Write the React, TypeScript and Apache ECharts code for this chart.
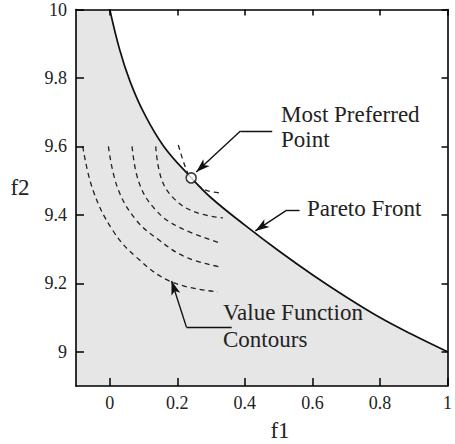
import React, { useEffect, useRef } from "react";
import * as echarts from "echarts";

const xTicks = [0, 0.2, 0.4, 0.6, 0.8, 1];
const yTicks = [9, 9.2, 9.4, 9.6, 9.8, 10];

const paretoF1 = [0, 0.03, 0.06, 0.1, 0.16, 0.24, 0.3, 0.4, 0.5, 0.6, 0.7, 0.8, 0.9, 1.0];
const paretoF2 = [10, 9.88, 9.79, 9.7, 9.6, 9.51, 9.45, 9.37, 9.295, 9.225, 9.16, 9.1, 9.048, 9.0];

const contour1F1 = [-0.08, -0.05, 0.008, 0.078, 0.183, 0.32];
const contour1F2 = [9.6, 9.473, 9.356, 9.277, 9.204, 9.175];
const contour2F1 = [-0.004, 0.023, 0.078, 0.145, 0.224, 0.326];
const contour2F2 = [9.6, 9.479, 9.385, 9.327, 9.277, 9.248];
const contour3F1 = [0.066, 0.087, 0.136, 0.203, 0.326];
const contour3F2 = [9.6, 9.493, 9.414, 9.365, 9.318];
const contour4F1 = [0.136, 0.154, 0.195, 0.253, 0.335];
const contour4F2 = [9.6, 9.502, 9.443, 9.408, 9.391];
const tangentF1 = [0.203, 0.227, 0.241, 0.282, 0.335];
const tangentF2 = [9.604, 9.531, 9.508, 9.473, 9.464];

const preferredPoint = [0.241, 9.508];

const FONT = "Liberation Serif, Times New Roman, serif";
const GRAY = "#e6e6e6";

const zip = (a: number[], b: number[]) => a.map((v, i) => [v, b[i]]);

export default function App() {
  const ref = useRef<HTMLDivElement>(null);
  useEffect(() => {
    if (!ref.current) return;
    const chart = echarts.init(ref.current, null, { renderer: "svg" });
    const axisCommon = {
      type: "value" as const,
      splitLine: { show: false },
      axisLine: { show: true, onZero: false, lineStyle: { color: "#000", width: 1.6 } },
      z: 10,
    };
    const contour = (f1: number[], f2: number[]) => ({
      type: "line",
      data: zip(f1, f2),
      smooth: 0.4,
      symbol: "none",
      silent: true,
      lineStyle: { color: "#222", width: 1.3, type: [5, 4] },
      z: 3,
    });
    const seg = (a: number[], b: number[], arrow: boolean) => [
      { coord: a, symbol: "none" },
      { coord: b, symbol: arrow ? "arrow" : "none" },
    ];
    const textStyle = (text: string, lineHeight: number) => ({
      text,
      fontFamily: FONT,
      fontSize: 23,
      fill: "#222",
      lineHeight,
    });
    chart.setOption({
      animation: false,
      backgroundColor: "#fff",
      grid: { left: 76, top: 9.5, right: 2, bottom: 58, containLabel: false },
      xAxis: [
        {
          ...axisCommon,
          min: -0.1,
          max: 1,
          position: "bottom",
          axisTick: { show: true, inside: true, length: 8, customValues: xTicks, lineStyle: { color: "#000", width: 1.5 } },
          axisLabel: {
            customValues: xTicks,
            margin: 8,
            fontFamily: FONT,
            fontSize: 18,
            color: "#222",
            formatter: (v: number) => `${+v.toFixed(1)}`,
          },
        },
        {
          ...axisCommon,
          min: -0.1,
          max: 1,
          position: "top",
          axisTick: { show: true, inside: true, length: 6, customValues: xTicks, lineStyle: { color: "#000", width: 1.5 } },
          axisLabel: { show: false },
        },
      ],
      yAxis: [
        {
          ...axisCommon,
          min: 8.9,
          max: 10,
          position: "left",
          axisTick: { show: true, inside: true, length: 8, customValues: yTicks, lineStyle: { color: "#000", width: 1.5 } },
          axisLabel: {
            customValues: yTicks,
            margin: 9,
            fontFamily: FONT,
            fontSize: 18,
            color: "#222",
            formatter: (v: number) => `${+v.toFixed(1)}`,
          },
        },
        {
          ...axisCommon,
          min: 8.9,
          max: 10,
          position: "right",
          axisTick: { show: true, inside: true, length: 6, customValues: yTicks, lineStyle: { color: "#000", width: 1.5 } },
          axisLabel: { show: false },
        },
      ],
      series: [
        {
          type: "line",
          data: zip(paretoF1, paretoF2),
          smooth: 0.4,
          symbol: "none",
          silent: true,
          lineStyle: { color: "#111", width: 1.7 },
          areaStyle: { color: GRAY, opacity: 1, origin: "start" },
          markArea: {
            silent: true,
            itemStyle: { color: GRAY, opacity: 1 },
            data: [[{ coord: [-0.1, 8.9] }, { coord: [0.002, 10] }]],
          },
          z: 2,
        },
        contour(contour1F1, contour1F2),
        contour(contour2F1, contour2F2),
        contour(contour3F1, contour3F2),
        contour(contour4F1, contour4F2),
        contour(tangentF1, tangentF2),
        {
          type: "line",
          data: [],
          silent: true,
          z: 5,
          markLine: {
            silent: true,
            animation: false,
            symbolSize: [7, 14],
            label: { show: false },
            lineStyle: { color: "#111", width: 1.4, type: "solid" },
            data: [
              seg([0.387, 9.645], [0.481, 9.645], false),
              seg([0.387, 9.645], [0.256, 9.525], true),
              seg([0.524, 9.414], [0.562, 9.414], false),
              seg([0.524, 9.414], [0.431, 9.353], true),
              seg([0.227, 9.072], [0.361, 9.072], false),
              seg([0.227, 9.072], [0.183, 9.207], true),
            ],
          },
        },
        {
          type: "scatter",
          data: [preferredPoint],
          symbol: "circle",
          symbolSize: 10,
          silent: true,
          itemStyle: { color: "#fff", borderColor: "#111", borderWidth: 1.6 },
          z: 6,
        },
      ],
      graphic: [
        { type: "text", left: 281, top: 102, z: 100, style: textStyle("Most Preferred\nPoint", 25) },
        { type: "text", left: 307, top: 195, z: 100, style: textStyle("Pareto Front", 26) },
        { type: "text", left: 223, top: 299, z: 100, style: textStyle("Value Function\nContours", 27) },
        {
          type: "text",
          x: 280,
          y: 430,
          z: 100,
          style: { ...textStyle("f1", 23), align: "center", verticalAlign: "middle" },
        },
        {
          type: "text",
          x: 20,
          y: 187,
          z: 100,
          style: { ...textStyle("f2", 23), align: "center", verticalAlign: "middle" },
        },
      ],
    });
    return () => chart.dispose();
  }, []);
  return (
    <div
      ref={ref}
      style={{ position: "absolute", left: 0, top: 0, width: 455, height: 444 }}
    />
  );
}
